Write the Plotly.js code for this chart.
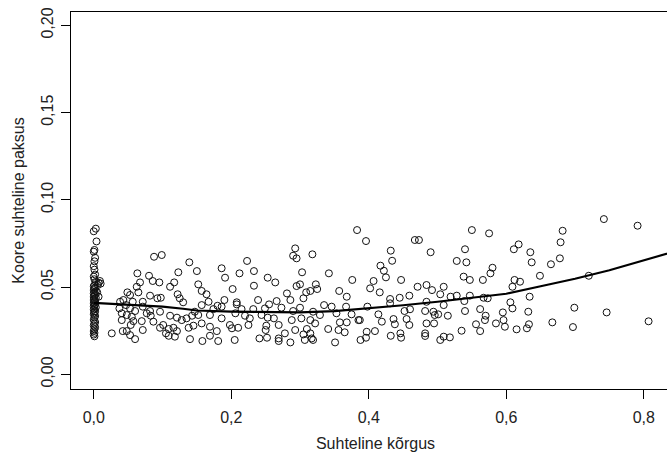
<!DOCTYPE html>
<html>
<head>
<meta charset="utf-8">
<script src="https://cdn.plot.ly/plotly-3.0.1.min.js"></script>
<style>
html,body{margin:0;padding:0;background:#fff;overflow:hidden;}
#chart{width:680px;height:452px;}
</style>
</head>
<body>
<div id="chart"></div>
<script>
// Observed points: relative height (x) vs relative bark thickness (y)
const xColumn = [0.003,0.000,0.004,0.001,0.000,0.002,0.001,0.000,0.001,0.002,0.000,0.001,0.003,0.007,0.001,0.000,0.002,0.001,0.000,0.003,0.001,0.000,0.002,0.001,0.000,0.003,0.001,0.000,0.002,0.001,0.000,0.002,0.001,0.000,0.003,0.001,0.000,0.002,0.001,0.000,0.002,0.001,0.000,0.002,0.001,0.000,0.002,0.001,0.000,0.001,0.000,0.001,0.009,0.010,0.006,0.005,0.007];
const yColumn = [0.0835,0.0820,0.0762,0.0713,0.0703,0.0668,0.0648,0.0620,0.0600,0.0572,0.0560,0.0545,0.0530,0.0525,0.0512,0.0505,0.0498,0.0490,0.0483,0.0476,0.0470,0.0463,0.0456,0.0450,0.0444,0.0438,0.0432,0.0426,0.0420,0.0414,0.0408,0.0402,0.0396,0.0390,0.0384,0.0378,0.0370,0.0362,0.0355,0.0345,0.0335,0.0325,0.0312,0.0300,0.0290,0.0280,0.0270,0.0258,0.0248,0.0238,0.0228,0.0218,0.0535,0.0520,0.0512,0.0470,0.0445];

const xLow = [0.0877,0.0989,0.139,0.123,0.0634,0.0804,0.0858,0.0954,0.0673,0.0625,0.117,0.111,0.0489,0.0528,0.0649,0.0819,0.0975,0.0925,0.122,0.125,0.130,0.0383,0.0431,0.0567,0.0713,0.0373,0.0470,0.0528,0.0601,0.0713,0.0819,0.0964,0.0407,0.048,0.0553,0.0771,0.0829,0.111,0.121,0.128,0.135,0.143,0.0407,0.0576,0.0538,0.0698,0.0867,0.101,0.0964,0.109,0.116,0.121,0.138,0.145,0.0713,0.0422,0.048,0.0528,0.0262,0.0601,0.105,0.109,0.118,0.140];
const yLow = [0.0674,0.0684,0.0642,0.0585,0.0579,0.0565,0.0535,0.0527,0.0527,0.0502,0.0527,0.0502,0.0470,0.0455,0.0470,0.0451,0.0439,0.0436,0.0459,0.0436,0.0413,0.0416,0.0426,0.0416,0.0416,0.0378,0.0397,0.0378,0.0363,0.0388,0.0363,0.0359,0.0350,0.0340,0.0330,0.0350,0.0336,0.0336,0.0325,0.0311,0.0321,0.0336,0.0311,0.0305,0.0283,0.0305,0.0302,0.0283,0.0267,0.0260,0.0267,0.0248,0.0267,0.0279,0.0254,0.0248,0.0248,0.0225,0.0235,0.0202,0.0235,0.0221,0.0216,0.0202];

const xMid = [0.293,0.290,0.295,0.318,0.223,0.186,0.150,0.233,0.212,0.191,0.253,0.303,0.264,0.152,0.233,0.202,0.295,0.300,0.157,0.164,0.281,0.309,0.286,0.266,0.305,0.167,0.190,0.239,0.157,0.180,0.208,0.208,0.255,0.249,0.232,0.215,0.174,0.186,0.273,0.290,0.300,0.147,0.152,0.169,0.186,0.206,0.220,0.227,0.244,0.253,0.262,0.288,0.302,0.157,0.169,0.179,0.198,0.201,0.210,0.225,0.251,0.250,0.269,0.278,0.293,0.310,0.315,0.158,0.169,0.181,0.205,0.241,0.252,0.269,0.269,0.286,0.305,0.307];
const yMid = [0.0722,0.0680,0.0665,0.0688,0.0650,0.0608,0.0592,0.0592,0.0579,0.0554,0.0554,0.0585,0.0527,0.0516,0.0508,0.0489,0.0506,0.0516,0.0478,0.0459,0.0464,0.0470,0.0426,0.0420,0.0436,0.0416,0.0426,0.0426,0.0397,0.0393,0.0413,0.0401,0.0401,0.0378,0.0374,0.0374,0.0374,0.0388,0.0382,0.0363,0.0382,0.0359,0.0340,0.0340,0.0321,0.0350,0.0336,0.0321,0.0340,0.0325,0.0321,0.0311,0.0321,0.0292,0.0273,0.0248,0.0283,0.0264,0.0267,0.0283,0.0279,0.0254,0.0283,0.0235,0.0254,0.0260,0.0235,0.0191,0.0221,0.0191,0.0197,0.0206,0.0210,0.0206,0.0191,0.0183,0.0229,0.0197];

const xUpper = [0.383,0.396,0.467,0.473,0.432,0.434,0.417,0.422,0.425,0.342,0.376,0.407,0.447,0.323,0.325,0.315,0.357,0.402,0.416,0.368,0.431,0.445,0.459,0.471,0.431,0.335,0.346,0.367,0.398,0.319,0.329,0.353,0.375,0.385,0.387,0.414,0.452,0.460,0.315,0.322,0.341,0.358,0.368,0.356,0.365,0.397,0.409,0.419,0.436,0.438,0.455,0.459,0.446,0.447,0.432,0.388,0.396,0.351,0.317,0.319];
const yUpper = [0.0827,0.0764,0.0770,0.0770,0.0709,0.0651,0.0623,0.0594,0.0556,0.0579,0.0541,0.0535,0.0541,0.0516,0.0489,0.0478,0.0478,0.0493,0.0470,0.0445,0.0432,0.0439,0.0451,0.0502,0.0407,0.0397,0.0388,0.0388,0.0388,0.0359,0.0340,0.0350,0.0344,0.0311,0.0311,0.0344,0.0363,0.0373,0.0311,0.0292,0.0260,0.0298,0.0298,0.0254,0.0241,0.0244,0.0248,0.0302,0.0317,0.0287,0.0317,0.0283,0.0235,0.0210,0.0221,0.0197,0.0210,0.0183,0.0206,0.0197];

const xHigh = [0.550,0.575,0.490,0.540,0.618,0.611,0.635,0.528,0.542,0.637,0.580,0.577,0.538,0.547,0.566,0.649,0.612,0.620,0.609,0.484,0.492,0.509,0.504,0.519,0.528,0.547,0.567,0.573,0.634,0.484,0.509,0.539,0.606,0.609,0.632,0.482,0.494,0.496,0.501,0.515,0.540,0.562,0.570,0.595,0.569,0.596,0.484,0.495,0.585,0.556,0.598,0.633,0.630,0.615,0.535,0.562,0.482,0.509,0.518,0.504,0.482];
const yHigh = [0.0827,0.0808,0.0700,0.0717,0.0745,0.0717,0.0700,0.0650,0.0642,0.0642,0.0611,0.0579,0.0560,0.0541,0.0541,0.0565,0.0541,0.0531,0.0502,0.0512,0.0483,0.0502,0.0459,0.0445,0.0451,0.0451,0.0439,0.0436,0.0445,0.0416,0.0397,0.0420,0.0413,0.0378,0.0359,0.0363,0.0359,0.0340,0.0344,0.0336,0.0363,0.0374,0.0336,0.0355,0.0311,0.0311,0.0292,0.0292,0.0292,0.0287,0.0273,0.0287,0.0264,0.0258,0.0250,0.0248,0.0235,0.0216,0.0212,0.0197,0.0220];

const xTop = [0.742,0.791,0.682,0.679,0.678,0.665,0.720,0.699,0.746,0.667,0.697,0.807];
const yTop = [0.0890,0.0852,0.0823,0.0757,0.0665,0.0631,0.0565,0.0382,0.0355,0.0298,0.0271,0.0304];

// Smoothed trend
const fitX = [0,0.01,0.03,0.05,0.08,0.10,0.13,0.15,0.20,0.25,0.30,0.35,0.40,0.45,0.50,0.55,0.60,0.65,0.70,0.75,0.80,0.85];
const fitY = [0.0410,0.0408,0.0404,0.0400,0.0393,0.0388,0.0376,0.0366,0.0360,0.0357,0.0355,0.0362,0.0377,0.0396,0.0416,0.0437,0.0462,0.0505,0.0548,0.0597,0.0653,0.0710];

const xTicks = [0,0.2,0.4,0.6,0.8];
const yTicks = [0,0.05,0.10,0.15,0.20];

const xs = [].concat(xColumn,xLow,xMid,xUpper,xHigh,xTop);
const ys = [].concat(yColumn,yLow,yMid,yUpper,yHigh,yTop);

const FONT = '"Liberation Sans", Arial, sans-serif';

const traces = [
  {x: xs, y: ys, type:'scatter', mode:'markers',
   marker:{symbol:'circle-open', size:7, color:'#111', line:{width:1, color:'#111'}},
   hoverinfo:'skip', showlegend:false},
  {x: fitX, y: fitY, type:'scatter', mode:'lines',
   line:{color:'#000', width:2.2}, hoverinfo:'skip', showlegend:false}
];

const axisCommon = {
  showgrid:false, zeroline:false, showline:true, linecolor:'#000', linewidth:1,
  mirror:true, ticks:'outside', ticklen:9, tickwidth:1, tickcolor:'#000',
  tickfont:{family:FONT, size:16, color:'#222'}
};

const layout = {
  width:680, height:452,
  margin:{l:71, r:0, t:12, b:63},
  paper_bgcolor:'#fff', plot_bgcolor:'#fff',
  separators:', ',
  showlegend:false,
  xaxis: Object.assign({}, axisCommon, {
    range:[-0.0331, 0.8527], tickvals:xTicks, tickformat:'.1f', ticklabelstandoff:5,
    title:{text:'Suhteline kõrgus', font:{family:FONT, size:16, color:'#222'}, standoff:14}
  }),
  yaxis: Object.assign({}, axisCommon, {
    range:[-0.0084, 0.2077], tickvals:yTicks, tickformat:'.2f', tickangle:-90, ticklabelstandoff:2,
    title:{text:'Koore suhteline paksus', font:{family:FONT, size:16, color:'#222'}, standoff:9}
  })
};

Plotly.newPlot('chart', traces, layout, {staticPlot:true, displayModeBar:false});
</script>
</body>
</html>
